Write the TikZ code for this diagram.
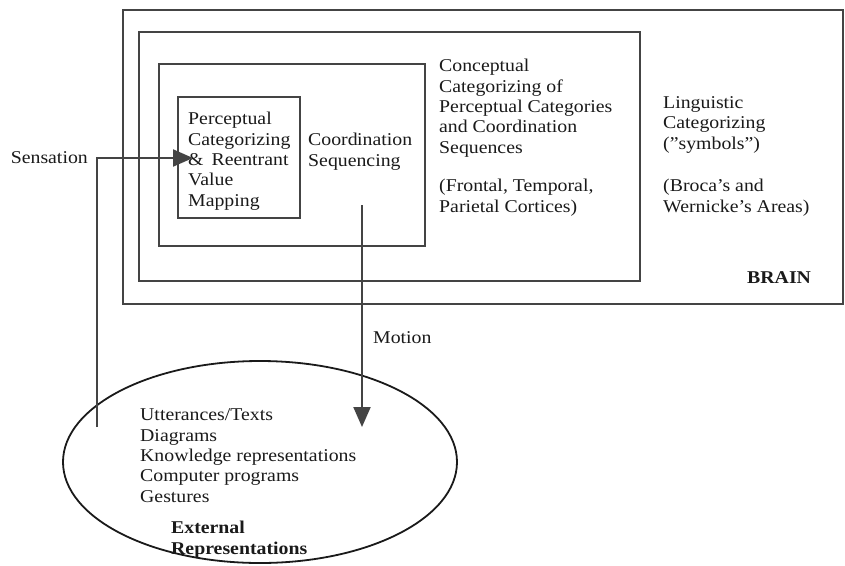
\documentclass[tikz,border=0pt]{standalone}
\usepackage{fontspec}
\setmainfont{Liberation Serif}[FakeStretch=1.1]
\usetikzlibrary{arrows.meta,shapes.geometric}
\definecolor{ink}{HTML}{1A1A1A}
\definecolor{rule}{HTML}{444444}
\begin{document}
\begin{tikzpicture}[x=1pt,y=-1pt,
  box/.style={draw=rule,line width=2.8pt,line join=miter},
  conn/.style={draw=rule,line width=2.1pt,line join=miter},
  tip/.style={-{Triangle[length=20pt,width=17pt,fill=rule]}},
  txt/.style={anchor=base west,inner sep=0pt,align=left,text=ink,
    font=\fontsize{18}{20.3}\selectfont},
  bold/.style={txt,font=\fontsize{18}{21}\selectfont\bfseries}]
\useasboundingbox (0,0) rectangle (845,565);
\fill[white] (0,0) rectangle (845,565);

% nested regions of the brain
\draw[box] (123,10) rectangle (843,304);
\draw[box] (139,32) rectangle (640,281);
\draw[box] (159,64) rectangle (425,246);
\draw[box] (178,97) rectangle (300,218);

% region labels (each placed by the baseline of its last line)
\node[txt] (percep) at (188,206) {Perceptual\\Categorizing\\\& \,Reentrant\\Value\\Mapping};
\node[txt] (coord) at (308,166) {Coord\kern-0.5pt ination\\Sequencing};
\node[txt] (concept) at (439,153) {Conceptual\\Categorizing of\\Perceptual Categories\\and Coordination\\Sequences};
\node[txt] (cortex) at (439,212) {(Frontal, Temporal,\\Parietal Cortices)};
\node[txt] (ling) at (663,149) {Linguistic\\Categorizing\\(\char"22 symbols\char"22 )};
\node[txt] (areas) at (663,212) {(Broca's and\\Wernicke's Areas)};
\node[bold] (brain) at (747,283) {BRAIN};

% external representations
\node[draw=ink,line width=1.8pt,ellipse,minimum width=394pt,minimum height=202pt,inner sep=0pt] (ext) at (260,462) {};
\node[txt] (items) at (140,502) {Utterances/Texts\\Diagrams\\Knowledge representations\\Computer programs\\Gestures};
\node[bold] (extlab) at (171,554) {External\\Representations};

% sensation and motion flows
\node[txt,anchor=base east] (sens) at (88,163) {Sensation};
\coordinate (sensEnd) at (97,427);
\coordinate (sensTip) at (193,158);
\draw[conn,tip] (sensEnd) |- (sensTip);

\coordinate (motStart) at (362,205);
\coordinate (motTip) at (362,427);
\draw[conn,tip] (motStart) -- (motTip);
\node[txt] (motion) at (373,343) {Motion};
\end{tikzpicture}
\end{document}
